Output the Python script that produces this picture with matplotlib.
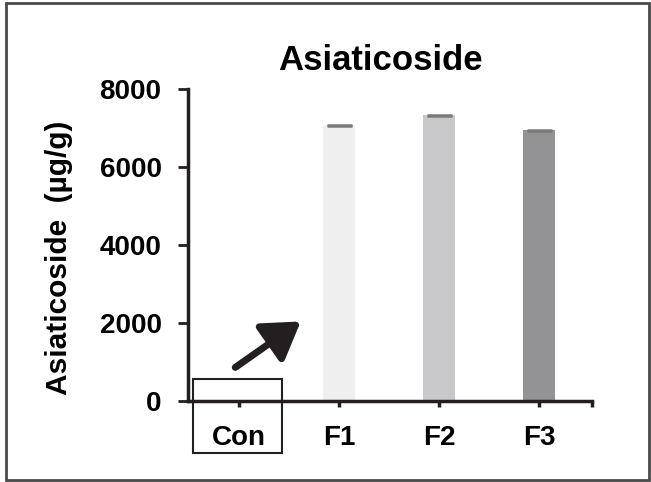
import matplotlib
matplotlib.use("Agg")
import matplotlib.pyplot as plt
from matplotlib.patches import Rectangle

plt.rcParams["font.family"] = ["Liberation Sans", "DejaVu Sans"]
plt.rcParams["font.weight"] = "bold"

groups = ["Con", "F1", "F2", "F3"]
values = [0, 7065, 7322, 6936]
errors = [0, 15, 15, 15]
colors = ["#ffffff", "#efefef", "#c8c8ca", "#939396"]
yticks = [0, 2000, 4000, 6000, 8000]

fig = plt.figure(figsize=(6.51, 4.82), dpi=100)
ax = fig.add_axes([188 / 651, 1 - 401 / 482, (592 - 188) / 651, (401 - 89) / 482])

x = list(range(len(groups)))
ax.bar(x, values, width=0.32, color=colors, edgecolor="none", zorder=2)
ax.errorbar(x[1:], values[1:], yerr=errors[1:], fmt="none", ecolor="#7a7a7a",
            elinewidth=1.2, capsize=9, capthick=1.8, zorder=3)

ax.set_xlim(-0.51, 3.53)
ax.set_ylim(0, 8000)
ax.set_xticks(x + [3.53])
ax.set_xticklabels(groups + [""], fontsize=20, fontweight="bold")
ax.set_yticks(yticks)
ax.set_yticklabels([str(v) for v in yticks], fontsize=20, fontweight="bold")
ax.tick_params(axis="y", length=7, width=2, pad=12, color="#231f20")
ax.tick_params(axis="x", length=4, width=2.5, pad=13, color="#231f20")
for s in ["top", "right"]:
    ax.spines[s].set_visible(False)
for s in ["left", "bottom"]:
    ax.spines[s].set_linewidth(2.5)
    ax.spines[s].set_color("#231f20")

ax.set_ylabel("Asiaticoside  (µg/g)", fontsize=21.5, fontweight="bold")
ax.yaxis.set_label_coords(-0.285, 0.458)
ax.set_title("Asiaticoside", fontsize=25, fontweight="bold", pad=14, x=0.477)

# box around Con and the arrow
ax.add_patch(Rectangle((-0.46, -1340), 0.89, 1905, fill=False, lw=1.5,
                       edgecolor="#231f20", clip_on=False, zorder=4))
ax.annotate("", xy=(0.64, 2080), xytext=(-0.06, 820),
            arrowprops=dict(arrowstyle="-|>,head_length=1.1,head_width=0.7",
                            lw=5, color="#231f20", mutation_scale=20),
            annotation_clip=False)

# outer frame
fig.add_artist(Rectangle((6 / 651, 1 - 480 / 482), 643 / 651, 477 / 482,
                         transform=fig.transFigure, fill=False, lw=2,
                         edgecolor="#4a4a4a"))

fig.savefig("out.png", dpi=100, facecolor="white")
